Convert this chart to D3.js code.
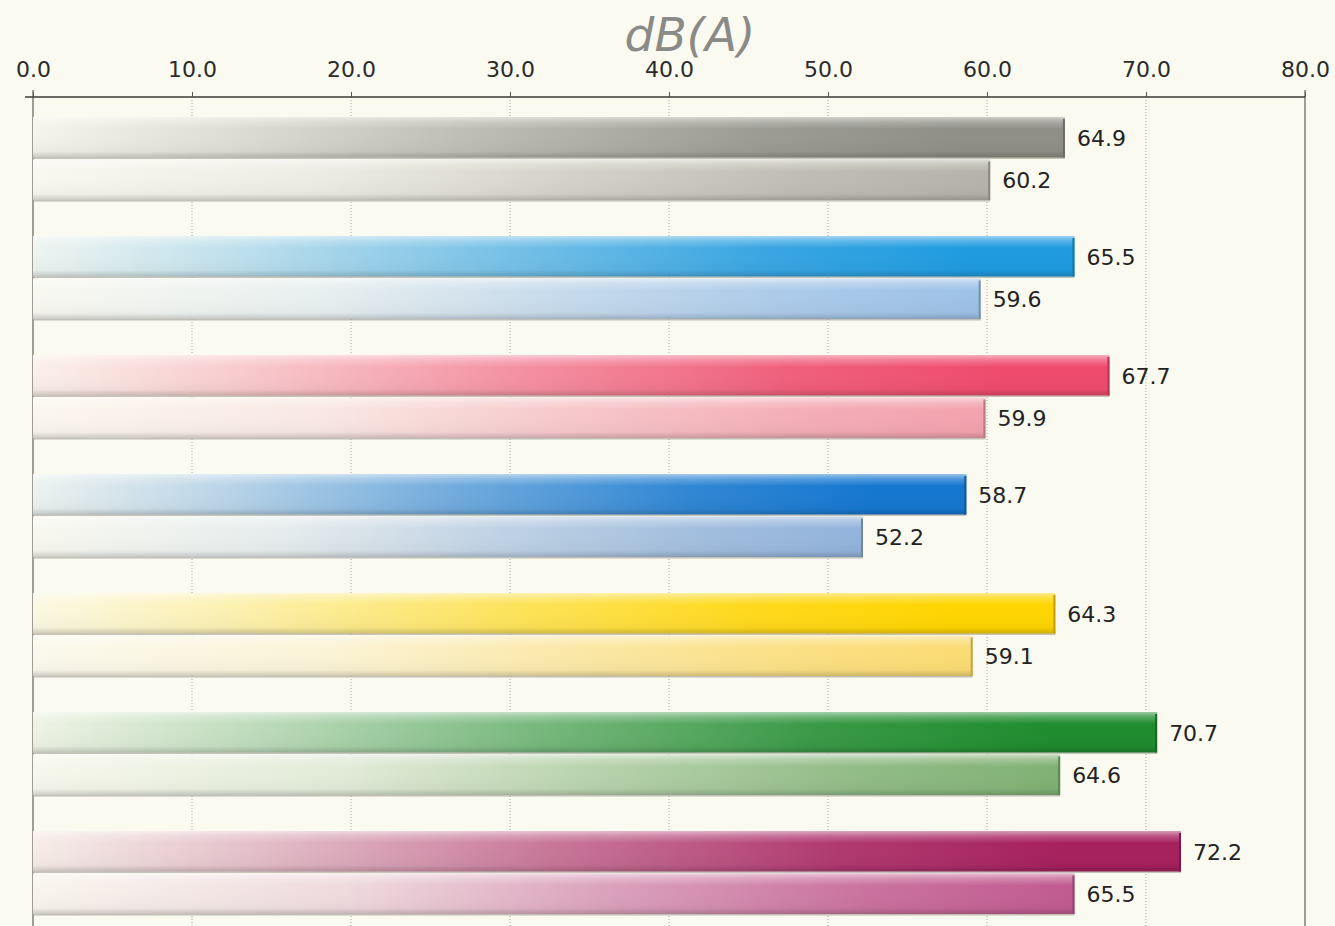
<!DOCTYPE html>
<html>
<head>
<meta charset="utf-8">
<script src="https://cdn.jsdelivr.net/npm/d3@7"></script>
<style>
  body { margin: 0; background: #fbfaf1; }
  svg { display: block; }
</style>
</head>
<body>
<div id="chart"></div>
<script>
// data
var groups = ["g1", "g2", "g3", "g4", "g5", "g6", "g7"];
var series = ["upper", "lower"];
var upperValues = [64.9, 65.5, 67.7, 58.7, 64.3, 70.7, 72.2];
var lowerValues = [60.2, 59.6, 59.9, 52.2, 59.1, 64.6, 65.5];
var xTicks = [0, 10, 20, 30, 40, 50, 60, 70, 80];
var unitLabel = "dB(A)";

// colours at the right end of each bar
var upperColors = ["#8f8f87", "#1f9be0", "#ef4b6d", "#1577d0", "#ffd500", "#1f8c2f", "#a6205e"];
var lowerColors = ["#b5b3a9", "#9dc1e7", "#f3a1ad", "#92b3db", "#fbdb72", "#80b174", "#c15a90"];

var W = 1335, H = 926;
var x0 = 33, x1 = 1305, axisY = 97;

var svg = d3.select("#chart").append("svg")
  .attr("width", W).attr("height", H);

var defs = svg.append("defs");

var x = d3.scaleLinear().domain([0, 80]).range([x0, x1]);

var y = d3.scaleBand().domain(groups).range([117, 914])
  .paddingInner(0.3025).paddingOuter(0);

var ySub = d3.scaleBand().domain(series).range([0, y.bandwidth()])
  .paddingInner(0.05);

// build rows
var rows = [];
groups.forEach(function(g, i) {
  rows.push({group: g, key: "upper", value: upperValues[i], color: upperColors[i], idx: i});
  rows.push({group: g, key: "lower", value: lowerValues[i], color: lowerColors[i], idx: i});
});

// gradients: pale at left, full colour at right
var bg = d3.color("#fbfaf1");
rows.forEach(function(d, k) {
  var c = d3.color(d.color);
  var mix = d3.interpolateRgb(bg, c);
  var stops = d.key == "upper"
    ? [[0, 0.06], [0.2, 0.28], [0.45, 0.6], [0.7, 0.88], [0.9, 1], [1, 1]]
    : [[0, 0.03], [0.3, 0.2], [0.55, 0.55], [0.8, 0.85], [1, 1]];
  var grad = defs.append("linearGradient").attr("id", "grad" + k)
    .attr("x1", "0%").attr("x2", "100%").attr("y1", "0%").attr("y2", "0%");
  stops.forEach(function(s) {
    grad.append("stop").attr("offset", s[0] * 100 + "%").attr("stop-color", mix(s[1]));
  });
  d.gid = "grad" + k;
});

// vertical shine: light on top, darker at bottom
var shine = defs.append("linearGradient").attr("id", "shine")
  .attr("x1", "0").attr("x2", "0").attr("y1", "0").attr("y2", "1");
shine.append("stop").attr("offset", "0%").attr("stop-color", "#fff").attr("stop-opacity", 0.55);
shine.append("stop").attr("offset", "12%").attr("stop-color", "#fff").attr("stop-opacity", 0.25);
shine.append("stop").attr("offset", "30%").attr("stop-color", "#fff").attr("stop-opacity", 0);
shine.append("stop").attr("offset", "85%").attr("stop-color", "#000").attr("stop-opacity", 0.03);
shine.append("stop").attr("offset", "100%").attr("stop-color", "#000").attr("stop-opacity", 0.18);

// dotted grid lines
svg.append("g").selectAll("line")
  .data(xTicks.slice(1, -1)).enter()
  .append("line")
    .attr("x1", function(d) { return x(d); })
    .attr("x2", function(d) { return x(d); })
    .attr("y1", axisY).attr("y2", H)
    .style("stroke", "#a8a69c")
    .style("stroke-width", 1)
    .style("stroke-dasharray", "1,2");

// frame lines at 0 and 80
svg.append("g").selectAll("line")
  .data([0, 80]).enter()
  .append("line")
    .attr("x1", function(d) { return x(d); })
    .attr("x2", function(d) { return x(d); })
    .attr("y1", axisY - 7).attr("y2", H)
    .style("stroke", "#6e6c64")
    .style("stroke-width", 1.3);

// top axis
var axis = svg.append("g")
  .attr("transform", "translate(0," + axisY + ")")
  .call(d3.axisTop(x).tickValues(xTicks).tickSize(5).tickPadding(15)
    .tickFormat(d3.format(".1f")));
axis.select(".domain").attr("d", "M25,0H" + x1)
  .style("stroke", "#3a3a36").style("stroke-width", 1.6);
axis.selectAll(".tick line").style("stroke", "#555");
axis.selectAll(".tick text")
  .style("font-family", "'DejaVu Sans', Verdana, sans-serif")
  .style("font-size", "22px")
  .style("fill", "#2a2a2a");

// unit title
svg.append("text")
  .attr("x", 690).attr("y", 51)
  .attr("text-anchor", "middle")
  .text(unitLabel)
  .style("font-family", "'DejaVu Sans', Verdana, sans-serif")
  .style("font-style", "italic")
  .style("font-size", "47px")
  .style("fill", "#8a8a86");

// bars
var bars = svg.append("g").selectAll("g.bar")
  .data(rows).enter()
  .append("g")
    .attr("class", "bar")
    .attr("transform", function(d) { return "translate(0," + (y(d.group) + ySub(d.key)) + ")"; });

var bh = ySub.bandwidth();

// shadow floor line under each bar
bars.append("rect")
  .attr("x", x0).attr("y", bh - 1)
  .attr("width", function(d) { return x(d.value) - x0; })
  .attr("height", 2.5)
  .style("fill", "#a9a79d")
  .style("opacity", 0.7);

bars.append("rect")
  .attr("x", x0).attr("y", 0)
  .attr("width", function(d) { return x(d.value) - x0; })
  .attr("height", bh)
  .style("fill", function(d) { return "url(#" + d.gid + ")"; });

bars.append("rect")
  .attr("x", x0).attr("y", 0)
  .attr("width", function(d) { return x(d.value) - x0; })
  .attr("height", bh)
  .style("fill", "url(#shine)");

// darker right end
bars.append("rect")
  .attr("x", function(d) { return x(d.value) - 2; })
  .attr("y", 2)
  .attr("width", 2).attr("height", bh - 2)
  .style("fill", function(d) { return d3.color(d.color).darker(0.8); });

// value labels
bars.append("text")
  .attr("x", function(d) { return x(d.value) + 12; })
  .attr("y", bh / 2 + 1)
  .attr("dy", "0.35em")
  .text(function(d) { return d3.format(".1f")(d.value); })
  .style("font-family", "'DejaVu Sans', Verdana, sans-serif")
  .style("font-size", "22px")
  .style("fill", "#222");
</script>
</body>
</html>
